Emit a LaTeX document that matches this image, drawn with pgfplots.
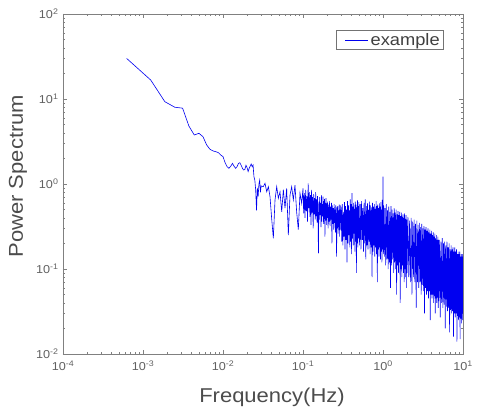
\documentclass[border=0pt]{standalone}
\usepackage{pgfplots}
\pgfplotsset{compat=1.18}
\usepackage{fontspec}
\setmainfont{Liberation Sans}[FakeStretch=1.1]
\definecolor{lineblue}{RGB}{0,0,240}
\definecolor{axgray}{gray}{0.5}
\definecolor{txtgray}{gray}{0.3}
\begin{document}
\begin{tikzpicture}
\useasboundingbox (-63pt,-53pt) rectangle (414pt,354pt);
\begin{axis}[
  scale only axis,
  width=400pt, height=340pt,
  xmode=log, ymode=log,
  xmin=1e-4, xmax=10, ymin=1e-2, ymax=100,
  xtick={1e-4,1e-3,1e-2,1e-1,1,10},
  xticklabels={10\textsuperscript{-4},10\textsuperscript{-3},10\textsuperscript{-2},10\textsuperscript{-1},10\textsuperscript{0},10\textsuperscript{1}},
  ytick={1e-2,1e-1,1,10,100},
  yticklabels={10\textsuperscript{-2},10\textsuperscript{-1},10\textsuperscript{0},10\textsuperscript{1},10\textsuperscript{2}},
  axis line style={axgray, line width=0.7pt},
  every tick/.style={axgray, line width=0.6pt},
  major tick length=4pt, minor tick length=2.2pt,
  tick align=inside,
  ticklabel style={font=\fontsize{11.5}{13}\selectfont, text=black!62},
  xticklabel style={yshift=-3pt},
  yticklabel style={xshift=-1pt},
  xlabel={Frequency(Hz)},
  ylabel={Power Spectrum},
  label style={font=\fontsize{20}{24}\selectfont, text=txtgray},
  xlabel style={at={(axis description cs:0.5225,0)}, anchor=base, yshift=-48pt},
  ylabel style={at={(axis description cs:-0.1125,0.523)}, anchor=center},
  legend style={at={(0.9525,0.953)}, anchor=north east, draw=black!55, line width=0.6pt,
    font=\fontsize{16.6}{19}\selectfont, text=black!75, inner xsep=2pt, inner ysep=1pt},
  legend cell align=left,
  legend image code/.code={\path (-7pt,0pt); \draw[#1] (0pt,0pt) -- (23pt,0pt);},
]
\addplot[lineblue, line width=0.6pt] table[row sep=\\] {
x y\\
0.000625 30\\
0.00125 16.7\\
0.001875 9.3\\
0.0025 8.0\\
0.003125 7.8\\
0.00375 4.8\\
0.004375 3.77\\
0.005 3.95\\
0.005625 3.6\\
0.00625 2.88\\
0.006875 2.56\\
0.0075 2.45\\
0.008125 2.4\\
0.00875 2.34\\
0.009375 2.19\\
0.01 2.1\\
0.010625 1.78\\
0.01125 1.6\\
0.011875 1.53\\
0.0125 1.62\\
0.013125 1.75\\
0.01375 1.62\\
0.014375 1.53\\
0.015 1.6\\
0.015625 1.75\\
0.01625 1.78\\
0.016875 1.66\\
0.0175 1.53\\
0.018125 1.46\\
0.01875 1.48\\
0.019375 1.66\\
0.02 1.56\\
0.020625 1.40\\
0.02125 1.53\\
0.021875 1.62\\
0.0225 1.72\\
0.023125 1.6\\
0.02375 1.67\\
0.024375 1.22\\
0.025 1.11\\
0.025625 0.85\\
0.02625 0.49\\
0.026875 0.9\\
0.0275 0.71\\
0.028125 1.0\\
0.02875 1.11\\
0.029375 0.8\\
0.0300 0.95\\
0.0319 0.93\\
0.0335 1.02\\
0.0352 0.81\\
0.0369 0.93\\
0.0387 0.71\\
0.0406 0.39\\
0.0426 0.23\\
0.0447 0.65\\
0.0469 0.93\\
0.0492 0.68\\
0.0516 0.81\\
0.0542 0.47\\
0.0568 0.86\\
0.0596 0.52\\
0.0625 0.89\\
0.0656 0.25\\
0.0688 0.74\\
0.0722 0.93\\
0.0757 0.65\\
0.0794 0.97\\
0.0833 0.47\\
0.0874 0.29\\
0.0917 0.78\\
0.0963 0.59\\
0.100 0.89\\
0.102 0.45\\
0.104 0.78\\
0.106 0.40\\
0.108 0.85\\
0.110 0.48\\
0.112 0.72\\
0.114 0.36\\
0.116 1.02\\
0.118 0.52\\
0.120 0.80\\
0.122 0.41\\
0.124 0.74\\
0.126 0.33\\
0.128 0.85\\
0.130 0.46\\
0.132 0.70\\
0.134 0.30\\
0.136 0.76\\
0.138 0.44\\
0.140 0.68\\
0.142 0.38\\
0.144 0.80\\
0.146 0.42\\
0.148 0.66\\
0.150 0.35\\
0.152 0.72\\
0.154 0.40\\
0.156 0.153\\
0.158 0.62\\
0.160 0.38\\
0.162 0.70\\
0.164 0.43\\
0.166 0.60\\
0.168 0.31\\
0.170 0.74\\
0.172 0.36\\
0.174 0.58\\
0.176 0.42\\
0.178 0.71\\
0.180 0.34\\
0.182 0.63\\
0.184 0.39\\
0.186 0.67\\
0.188 0.24\\
0.190 0.60\\
0.192 0.37\\
0.194 0.68\\
0.196 0.33\\
0.198 0.59\\
0.200 0.40\\
0.203 0.62\\
0.206 0.30\\
0.209 0.57\\
0.212 0.36\\
0.215 0.63\\
0.218 0.32\\
0.221 0.54\\
0.224 0.38\\
0.227 0.60\\
0.230 0.20\\
0.233 0.56\\
0.236 0.34\\
0.239 0.52\\
0.242 0.29\\
0.245 0.58\\
0.248 0.35\\
0.251 0.50\\
0.254 0.27\\
0.257 0.56\\
0.260 0.33\\
0.263 0.14\\
0.266 0.53\\
0.269 0.30\\
0.272 0.55\\
0.275 0.26\\
0.278 0.49\\
0.281 0.31\\
0.284 0.57\\
0.287 0.24\\
0.290 0.50\\
0.293 0.29\\
0.296 0.54\\
0.300 0.52\\
0.305 0.21\\
0.310 0.58\\
0.315 0.19\\
0.320 0.47\\
0.325 0.24\\
0.330 0.61\\
0.335 0.17\\
0.340 0.55\\
0.345 0.22\\
0.350 0.50\\
0.355 0.12\\
0.360 0.63\\
0.365 0.20\\
0.370 0.56\\
0.375 0.25\\
0.380 0.49\\
0.385 0.18\\
0.390 0.66\\
0.395 0.21\\
0.400 0.58\\
0.405 0.15\\
0.410 0.78\\
0.415 0.23\\
0.420 0.54\\
0.425 0.19\\
0.430 0.60\\
0.435 0.26\\
0.440 0.51\\
0.445 0.16\\
0.450 0.62\\
0.455 0.21\\
0.460 0.57\\
0.465 0.09\\
0.470 0.53\\
0.475 0.20\\
0.480 0.64\\
0.485 0.18\\
0.490 0.55\\
0.495 0.23\\
0.500 0.61\\
0.51 0.19\\
0.52 0.58\\
0.53 0.17\\
0.54 0.63\\
0.55 0.22\\
0.56 0.52\\
0.57 0.16\\
0.58 0.60\\
0.59 0.20\\
0.60 0.66\\
0.61 0.13\\
0.62 0.55\\
0.63 0.19\\
0.64 0.59\\
0.65 0.17\\
0.66 0.50\\
0.67 0.21\\
0.68 0.62\\
0.69 0.15\\
0.70 0.56\\
0.71 0.18\\
0.72 0.53\\
0.73 0.08\\
0.74 0.60\\
0.75 0.16\\
0.76 0.54\\
0.77 0.19\\
0.78 0.58\\
0.79 0.14\\
0.80 0.51\\
0.81 0.18\\
0.82 0.63\\
0.83 0.15\\
0.84 0.55\\
0.85 0.07\\
0.86 0.57\\
0.87 0.17\\
0.88 0.52\\
0.89 0.14\\
0.90 0.59\\
0.91 0.18\\
0.92 0.54\\
0.93 0.13\\
0.94 0.61\\
0.95 0.16\\
0.96 0.50\\
0.97 0.12\\
0.98 0.65\\
0.99 0.17\\
1.00 1.22\\
1.01 0.15\\
1.02 0.56\\
1.04 0.14\\
1.06 0.52\\
1.08 0.11\\
1.10 0.58\\
1.12 0.13\\
1.14 0.49\\
1.16 0.10\\
1.18 0.54\\
1.20 0.12\\
1.22 0.47\\
1.24 0.06\\
1.26 0.55\\
1.28 0.11\\
1.30 0.50\\
1.32 0.13\\
1.34 0.45\\
1.36 0.09\\
1.38 0.52\\
1.40 0.12\\
1.42 0.46\\
1.44 0.10\\
1.46 0.50\\
1.48 0.05\\
1.50 0.44\\
1.52 0.11\\
1.54 0.48\\
1.56 0.09\\
1.58 0.43\\
1.60 0.12\\
1.62 0.47\\
1.64 0.04\\
1.66 0.42\\
1.68 0.10\\
1.70 0.46\\
1.72 0.08\\
1.74 0.41\\
1.76 0.11\\
1.78 0.44\\
1.80 0.09\\
1.82 0.40\\
1.84 0.07\\
1.86 0.45\\
1.88 0.10\\
1.90 0.39\\
1.92 0.08\\
1.94 0.43\\
1.96 0.06\\
1.98 0.38\\
2.00 0.09\\
2.05 0.41\\
2.10 0.08\\
2.15 0.37\\
2.20 0.07\\
2.25 0.40\\
2.30 0.05\\
2.35 0.36\\
2.40 0.08\\
2.45 0.38\\
2.50 0.07\\
2.55 0.34\\
2.60 0.035\\
2.65 0.37\\
2.70 0.07\\
2.75 0.33\\
2.80 0.06\\
2.85 0.35\\
2.90 0.07\\
2.95 0.31\\
3.00 0.05\\
3.05 0.34\\
3.10 0.065\\
3.15 0.30\\
3.20 0.055\\
3.25 0.32\\
3.30 0.03\\
3.35 0.29\\
3.40 0.06\\
3.45 0.31\\
3.50 0.05\\
3.55 0.28\\
3.60 0.055\\
3.65 0.30\\
3.70 0.045\\
3.75 0.27\\
3.80 0.055\\
3.85 0.29\\
3.90 0.025\\
3.95 0.26\\
4.00 0.05\\
4.05 0.28\\
4.10 0.045\\
4.15 0.25\\
4.20 0.05\\
4.25 0.27\\
4.30 0.04\\
4.35 0.24\\
4.40 0.048\\
4.45 0.26\\
4.50 0.03\\
4.55 0.23\\
4.60 0.045\\
4.65 0.25\\
4.70 0.04\\
4.75 0.22\\
4.80 0.046\\
4.85 0.24\\
4.90 0.035\\
4.95 0.22\\
5.00 0.042\\
5.1 0.22\\
5.2 0.027\\
5.3 0.21\\
5.4 0.04\\
5.5 0.23\\
5.6 0.035\\
5.7 0.20\\
5.8 0.038\\
5.9 0.21\\
6.0 0.02\\
6.1 0.19\\
6.2 0.036\\
6.3 0.21\\
6.4 0.032\\
6.5 0.18\\
6.6 0.035\\
6.7 0.20\\
6.8 0.018\\
6.9 0.17\\
7.0 0.033\\
7.1 0.19\\
7.2 0.03\\
7.3 0.17\\
7.4 0.032\\
7.5 0.18\\
7.6 0.016\\
7.7 0.16\\
7.8 0.03\\
7.9 0.18\\
8.0 0.027\\
8.1 0.16\\
8.2 0.03\\
8.3 0.17\\
8.4 0.014\\
8.5 0.15\\
8.6 0.028\\
8.7 0.16\\
8.8 0.025\\
8.9 0.15\\
9.0 0.027\\
9.1 0.16\\
9.2 0.015\\
9.3 0.14\\
9.4 0.026\\
9.5 0.15\\
9.6 0.023\\
9.7 0.14\\
9.8 0.025\\
9.9 0.15\\
10.0 0.03\\
};
\addlegendentry{example}
\end{axis}
\end{tikzpicture}
\end{document}
